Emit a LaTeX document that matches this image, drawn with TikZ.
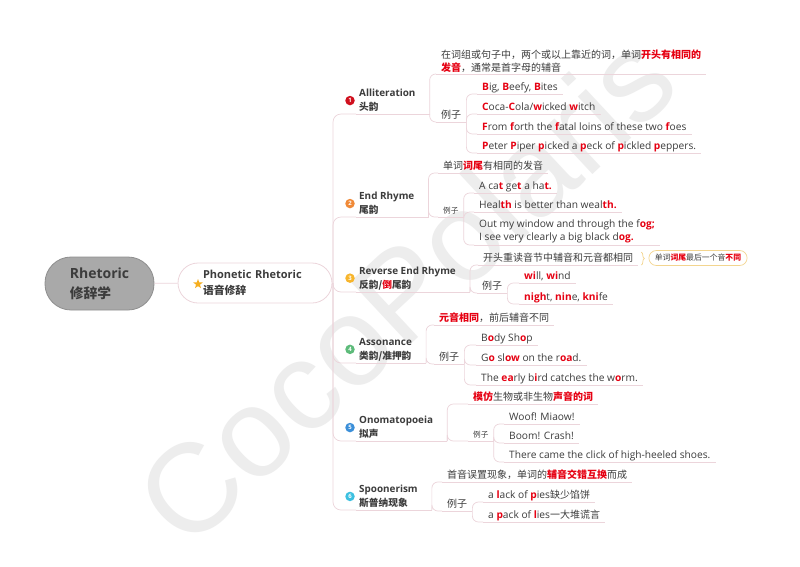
\documentclass[tikz,border=0pt]{standalone}
\usepackage{fontspec}
\setmainfont{Open Sans}
\newfontfamily\zhfont[Scale=0.98]{Noto Sans CJK SC}
\newfontfamily\markfont{Liberation Sans}
\usetikzlibrary{shapes.geometric}
\usetikzlibrary{decorations.pathreplacing}

\definecolor{linepink}{HTML}{ECD5DB}
\definecolor{inkgray}{HTML}{3C3C3C}
\definecolor{hlred}{HTML}{E60012}
\definecolor{rootgray}{HTML}{A9A9A9}
\definecolor{rootedge}{HTML}{8E8E8E}
\definecolor{markgray}{HTML}{EDEDED}
\definecolor{noteyellow}{HTML}{F3D58F}
\definecolor{starorange}{HTML}{F6AE1E}
\definecolor{dotone}{HTML}{D0101E}
\definecolor{dottwo}{HTML}{F08A38}
\definecolor{dotthree}{HTML}{F7B52C}
\definecolor{dotfour}{HTML}{5DBB7A}
\definecolor{dotfive}{HTML}{3B8FD9}
\definecolor{dotsix}{HTML}{3CC0E0}

\newcommand{\zh}[1]{{\zhfont #1}}
\newcommand{\hl}[1]{{\bfseries\color{hlred}#1}}

\tikzstyle{branch}=[draw=linepink, line width=0.7pt, rounded corners=6pt]
\tikzstyle{leaf}=[anchor=south west, inner xsep=5pt, inner ysep=1.5pt, text=inkgray,
  font=\fontsize{10.2}{13}\selectfont,
  append after command={(\tikzlastnode.south west) edge[branch] (\tikzlastnode.south east)}]
\tikzstyle{oneline}=[leaf, text height=7.5pt, text depth=2pt]
\tikzstyle{tinyleaf}=[oneline, font=\fontsize{7.8}{9}\selectfont]
\tikzstyle{subtopic}=[anchor=south west, inner xsep=3pt, inner ysep=2pt, align=left, text=inkgray,
  font=\bfseries\fontsize{9.9}{14}\selectfont,
  append after command={(\tikzlastnode.south west) edge[branch] ([xshift=11pt]\tikzlastnode.south east)}]
\tikzstyle{topic}=[rounded corners=26pt, fill=rootgray, draw=rootedge, line width=0.8pt,
  minimum width=109pt, minimum height=53pt, align=left, text=inkgray,
  font=\bfseries\fontsize{14}{20}\selectfont]
\tikzstyle{maintopic}=[rounded corners=20pt, fill=white, draw=linepink, line width=0.8pt,
  minimum width=154pt, minimum height=40pt, text width=104pt, align=left, text=inkgray,
  font=\bfseries\fontsize{11}{16}\selectfont]
\tikzstyle{numdot}=[circle, inner sep=0pt, minimum size=9.5pt, text=white,
  font=\bfseries\fontsize{6}{6}\selectfont]
\tikzstyle{note}=[draw=noteyellow, line width=0.7pt, rounded corners=7.5pt, minimum height=15pt,
  inner xsep=6pt, text=inkgray, font=\fontsize{8}{9}\selectfont]
\tikzstyle{summary}=[draw=noteyellow, line width=0.7pt, decorate, decoration={brace, amplitude=3pt}]
\tikzstyle{watermark}=[rotate=43, text=markgray, font=\markfont\fontsize{126}{126}\selectfont]

\begin{document}
\begin{tikzpicture}[x=1pt, y=-1pt]
  \useasboundingbox[fill=white] (0,0) rectangle (800,566);
  \node[watermark] (mark) at (405,288) {CocoPolaris};

  \node[topic] (root) at (99.5,283.5) {Rhetoric\\\zh{修辞学}};
  \node[maintopic] (phon) at (255,283) {Phonetic Rhetoric\\\zh{语音修辞}};
  \node[star, star points=5, star point ratio=2.4, minimum size=10pt, inner sep=0pt,
    fill=starorange] (star) at (198,284) {};
  \draw[branch] (root) -- (phon);
  \coordinate (spine) at (333,283);
  \draw[branch] (phon.east) -- (spine);

  \node[subtopic] (allit) at (356,114) {Alliteration\\\zh{头韵}};
  \node[subtopic] (endr) at (356,217) {End Rhyme\\\zh{尾韵}};
  \node[subtopic] (rev) at (356,292) {Reverse End Rhyme\\\zh{反韵/\hl{倒}尾韵}};
  \node[subtopic] (asso) at (356,363) {Assonance\\\zh{类韵/准押韵}};
  \node[subtopic] (ono) at (356,441) {Onomatopoeia\\\zh{拟声}};
  \node[subtopic] (spoon) at (356,510) {Spoonerism\\\zh{斯普纳现象}};
  \foreach \n/\col/\k in {allit/dotone/1, endr/dottwo/2, rev/dotthree/3,
      asso/dotfour/4, ono/dotfive/5, spoon/dotsix/6} {
    \draw[branch, rounded corners=8pt] (spine) |- (\n.south west);
    \node[numdot, fill=\col] (dot\k) at ([xshift=-6pt]\n.west) {\k};
    \coordinate (\n-end) at ([xshift=11pt]\n.south east);
  }

  % alliteration
  \node[leaf, align=left] (allitdef) at (436,74)
    {\zh{在词组或句子中，两个或以上靠近的词，单词\hl{开头有相同的}}\\\zh{\hl{发音}，通常是首字母的辅音}};
  \node[oneline] (allitex) at (436,122) {\zh{例子}};
  \node[oneline] (allit1) at (477,94) {\hl{B}ig, \hl{B}eefy, \hl{B}ites};
  \node[oneline] (allit2) at (477,114) {\hl{C}oca-\hl{C}ola/\hl{w}icked \hl{w}itch};
  \node[oneline] (allit3) at (477,134) {\hl{F}rom \hl{f}orth the \hl{f}atal loins of these two \hl{f}oes};
  \node[oneline] (allit4) at (477,153) {\hl{P}eter \hl{P}iper \hl{p}icked a \hl{p}eck of \hl{p}ickled \hl{p}eppers.};

  % end rhyme
  \node[oneline] (endrdef) at (438,173) {\zh{单词\hl{词尾}有相同的发音}};
  \node[tinyleaf] (endrex) at (438,217) {\zh{例子}};
  \node[oneline] (endr1) at (474,193) {A ca\hl{t} ge\hl{t} a ha\hl{t.}};
  \node[oneline] (endr2) at (474,212) {Heal\hl{th} is better than weal\hl{th.}};
  \node[leaf, align=left] (endr3) at (474,245)
    {Out my window and through the f\hl{og;}\\I see very clearly a big black d\hl{og.}};

  % reverse end rhyme
  \node[oneline] (revdef) at (478,265) {\zh{开头重读音节中辅音和元音都相同}};
  \node[oneline] (revex) at (477,293) {\zh{例子}};
  \node[oneline] (rev1) at (519,283) {\hl{wi}ll, \hl{wi}nd};
  \node[oneline] (rev2) at (519,304) {\hl{nigh}t, \hl{nin}e, \hl{kni}fe};
  \draw[summary] ([xshift=3pt]revdef.north east) -- ([xshift=3pt]revdef.south east);
  \node[note] (revnote) at (698,258) {\zh{单词\hl{词尾}最后一个音\hl{不同}}};

  % assonance
  \node[oneline] (assodef) at (434,325) {\zh{\hl{元音相同}，前后辅音不同}};
  \node[oneline] (assoex) at (434,364) {\zh{例子}};
  \node[oneline] (asso1) at (476,345) {B\hl{o}dy Sh\hl{o}p};
  \node[oneline] (asso2) at (476,365) {G\hl{o} sl\hl{ow} on the r\hl{oa}d.};
  \node[oneline] (asso3) at (476,385) {The \hl{ea}rly b\hl{i}rd catches the w\hl{o}rm.};

  % onomatopoeia
  \node[oneline] (onodef) at (468,404) {\zh{\hl{模仿}生物或非生物\hl{声音的词}}};
  \node[tinyleaf] (onoex) at (468,441) {\zh{例子}};
  \node[oneline] (ono1) at (504,424) {Woof! Miaow!};
  \node[oneline] (ono2) at (504,443) {Boom! Crash!};
  \node[oneline] (ono3) at (504,462) {There came the click of high-heeled shoes.};

  % spoonerism
  \node[oneline] (spoondef) at (442,482) {\zh{首音误置现象，单词的\hl{辅音交错互换}而成}};
  \node[oneline] (spoonex) at (442,511) {\zh{例子}};
  \node[oneline] (spoon1) at (483,502) {a \hl{l}ack of \hl{p}ies\zh{缺少馅饼}};
  \node[oneline] (spoon2) at (483,522) {a \hl{p}ack of \hl{l}ies\zh{一大堆谎言}};

  \foreach \src/\dst in {allit-end/allitdef, allit-end/allitex, allitex.south east/allit1,
      allitex.south east/allit2, allitex.south east/allit3, allitex.south east/allit4,
      endr-end/endrdef, endr-end/endrex, endrex.south east/endr1, endrex.south east/endr2,
      endrex.south east/endr3, rev-end/revdef, rev-end/revex, revex.south east/rev1,
      revex.south east/rev2, asso-end/assodef, asso-end/assoex, assoex.south east/asso1,
      assoex.south east/asso2, assoex.south east/asso3, ono-end/onodef, ono-end/onoex,
      onoex.south east/ono1, onoex.south east/ono2, onoex.south east/ono3,
      spoon-end/spoondef, spoon-end/spoonex, spoonex.south east/spoon1, spoonex.south east/spoon2}
    \draw[branch] (\src) |- (\dst.south west);
\end{tikzpicture}
\end{document}
